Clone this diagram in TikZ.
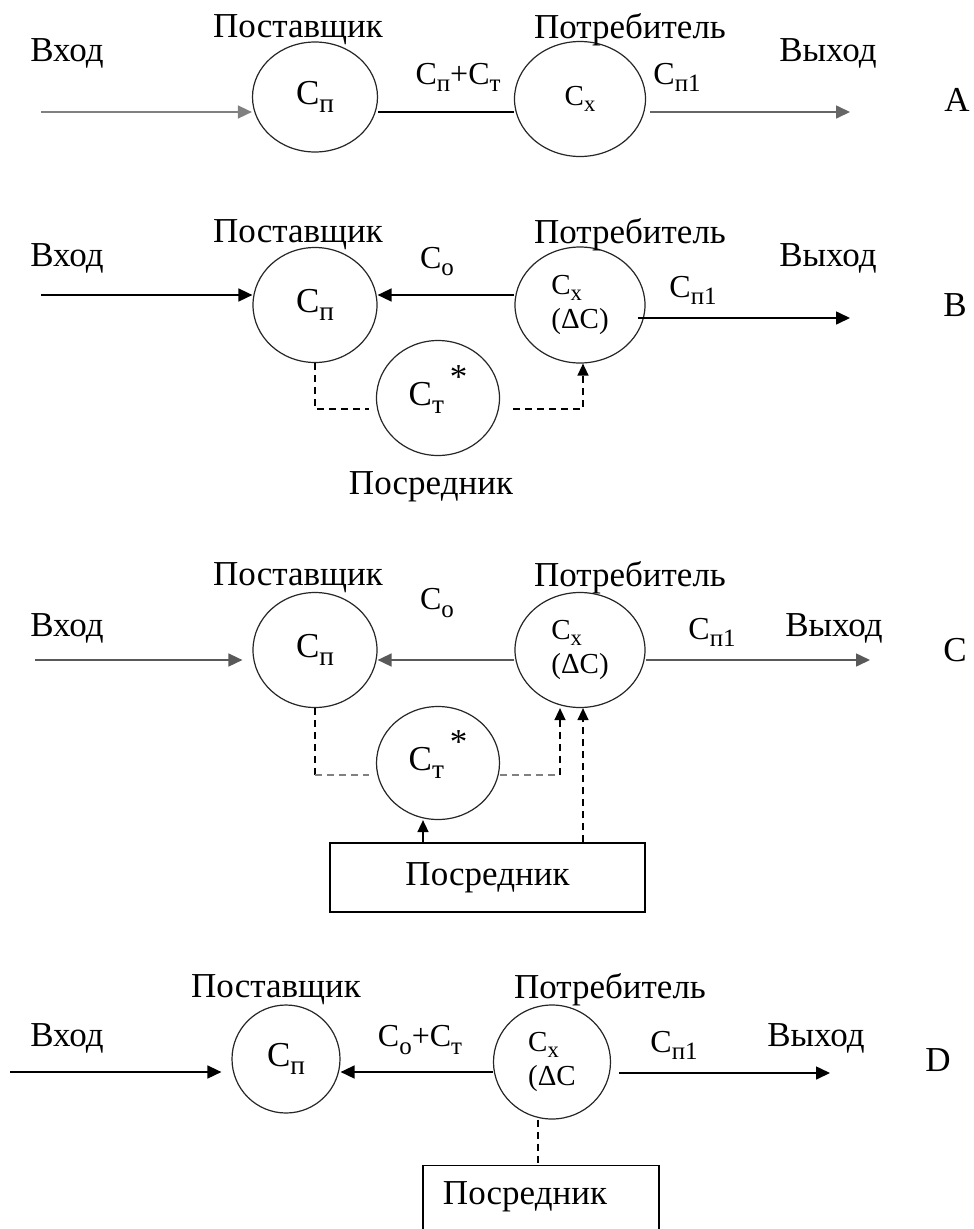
\documentclass[tikz,border=0pt]{standalone}
\usepackage{fontspec}
\setmainfont{Liberation Serif}
\usetikzlibrary{arrows.meta,shapes.geometric}
\newcommand{\Cind}[1]{C\raisebox{-0.22em}{\scalebox{0.78}{#1}}}
\newcommand{\Stern}{\smash{\raisebox{0.5em}{\,*}}}

\begin{document}
\begin{tikzpicture}[x=1pt,y=-1pt,
    krug/.style={ellipse, draw=black!85, line width=1.2pt, inner sep=0pt, font=\fontsize{35}{40}\selectfont},
    krugmal/.style={krug, align=left, font=\fontsize{29}{34}\selectfont},
    metka/.style={inner sep=0pt, font=\fontsize{35}{40}\selectfont},
    indeks/.style={inner sep=0pt, font=\fontsize{32}{36}\selectfont},
    linie/.style={line width=1.6pt},
    strelka/.style={linie, -{Triangle[length=14pt,width=13pt]}},
    punktir/.style={line width=1.4pt, dash pattern=on 7pt off 5pt},
    yashchik/.style={rectangle, draw, line width=1.4pt, inner sep=0pt, font=\fontsize{35}{40}\selectfont}
  ]
  \clip (0,0) rectangle (974,1229);
  \fill[white] (0,0) rectangle (974,1229);

  % --- A
  \node[krug, minimum width=125, minimum height=110] (spA) at (315,97) {\Cind{п}};
  \node[krugmal, minimum width=131, minimum height=115] (cxA) at (580,99) {\Cind{x}};
  \coordinate (inA) at (41,112);
  \coordinate (outA) at (850,112);
  \draw[strelka, draw=gray] (inA) -- (spA.west |- inA);
  \draw[linie] (spA.east |- inA) -- (cxA.west |- inA);
  \draw[strelka, draw=gray!80!black, shorten <=4pt] (cxA.east |- outA) -- (outA);
  \node[metka] (vhA) at (67,53) {Вход};
  \node[metka] (postA) at (298,30) {Поставщик};
  \node[metka] (potrA) at (630,30) {Потребитель};
  \node[indeks] (sumA) at (458,77) {\Cind{п}+\Cind{т}};
  \node[indeks] (cp1A) at (677,77) {\Cind{п1}};
  \node[metka] (vyhA) at (828,53) {Выход};
  \node[metka] (bukvaA) at (957,100) {A};

  % --- B
  \node[krug, minimum width=124, minimum height=115] (spB) at (315,305) {\Cind{п}};
  \node[krugmal, minimum width=130, minimum height=116] (cxB) at (580,305) {\Cind{x}\\(ΔC)};
  \node[krug, minimum width=123, minimum height=115] (ctB) at (438,398) {\Cind{т}\Stern};
  \coordinate (inB) at (41,295);
  \coordinate (outB) at (850,318);
  \draw[strelka] (inB) -- (spB.west |- inB);
  \draw[strelka] (cxB.west |- inB) -- (spB.east |- inB);
  \draw[strelka, shorten <=-8pt] (cxB.east |- outB) -- (outB);
  \draw[punktir] (spB.south) |- ([xshift=-7pt,yshift=-11pt]ctB.west);
  \draw[punktir, -{Triangle[length=12pt,width=11pt]}] ([xshift=13pt,yshift=-11pt]ctB.east) -| ([xshift=3pt]cxB.south);
  \node[metka] (vhB) at (67,258) {Вход};
  \node[metka] (postB) at (298,235) {Поставщик};
  \node[metka] (potrB) at (630,235) {Потребитель};
  \node[indeks] (coB) at (437,262) {\Cind{о}};
  \node[indeks] (cp1B) at (693,290) {\Cind{п1}};
  \node[metka] (vyhB) at (828,258) {Выход};
  \node[metka] (bukvaB) at (955,305) {B};
  \node[metka] (posrB) at (431,487) {Посредник};

  % --- C
  \node[krug, minimum width=124, minimum height=115] (spC) at (315,650) {\Cind{п}};
  \node[krugmal, minimum width=130, minimum height=115] (cxC) at (580,650) {\Cind{x}\\(ΔC)};
  \node[krug, minimum width=123, minimum height=113] (ctC) at (438,763) {\Cind{т}\Stern};
  \node[yashchik, minimum width=315, minimum height=69] (boxC) at (487.5,877.5) {Посредник};
  \coordinate (inC) at (35,660);
  \coordinate (outC) at (870,660);
  \coordinate (l1) at ([xshift=-7pt,yshift=-12pt]ctC.west);
  \coordinate (r1) at ([yshift=-12pt]ctC.east);
  \coordinate (c1) at ([xshift=-20pt]cxC.south);
  \coordinate (c2) at ([xshift=3pt]cxC.south);
  \coordinate (c3) at ([xshift=-15pt]ctC.south);
  \draw[strelka, draw=gray!70!black, shorten >=10pt] (inC) -- (spC.west |- inC);
  \draw[strelka, draw=gray!70!black] (cxC.west |- inC) -- (spC.east |- inC);
  \draw[strelka, draw=gray!70!black] (cxC.east |- outC) -- (outC);
  \draw[punktir] (spC.south) -- (spC.south |- l1);
  \draw[punktir, gray] (spC.south |- l1) -- (l1);
  \draw[punktir, gray] (r1) -- (c1 |- r1);
  \draw[punktir, -{Triangle[length=12pt,width=11pt]}] (c1 |- r1) -- (c1);
  \draw[punktir, -{Triangle[length=12pt,width=11pt]}] (c2 |- boxC.north) -- (c2);
  \draw[linie, -{Triangle[length=12pt,width=11pt]}] (c3 |- boxC.north) -- (c3);
  \node[metka] (vhC) at (67,628) {Вход};
  \node[metka] (postC) at (298,578) {Поставщик};
  \node[metka] (potrC) at (630,578) {Потребитель};
  \node[indeks] (coC) at (437,603) {\Cind{о}};
  \node[indeks] (cp1C) at (712,632) {\Cind{п1}};
  \node[metka] (vyhC) at (834,628) {Выход};
  \node[metka] (bukvaC) at (955,650) {C};

  % --- D
  \node[krug, minimum width=108, minimum height=108] (spD) at (286,1059) {\Cind{п}};
  \node[krugmal, minimum width=117, minimum height=114] (cxD) at (552,1062) {\Cind{x}\\(ΔC};
  \node[yashchik, anchor=north, minimum width=236, minimum height=100] (boxD) at (541,1165) {};
  \coordinate (inD) at (10,1072);
  \coordinate (outD) at (830,1073);
  \coordinate (c4) at ([xshift=-14pt]cxD.south);
  \draw[strelka, shorten >=10pt] (inD) -- (spD.west |- inD);
  \draw[strelka] (cxD.west |- inD) -- (spD.east |- inD);
  \draw[strelka, shorten <=8pt] (cxD.east |- outD) -- (outD);
  \draw[punktir] (c4) -- (c4 |- boxD.north);
  \node[metka] (vhD) at (67,1038) {Вход};
  \node[metka] (postD) at (276,990) {Поставщик};
  \node[metka] (potrD) at (610,990) {Потребитель};
  \node[indeks] (sumD) at (420,1040) {\Cind{о}+\Cind{т}};
  \node[indeks] (cp1D) at (674,1045) {\Cind{п1}};
  \node[metka] (vyhD) at (816,1038) {Выход};
  \node[metka] (bukvaD) at (938,1060) {D};
  \node[metka] (posrD) at (525,1197) {Посредник};
\end{tikzpicture}
\end{document}
